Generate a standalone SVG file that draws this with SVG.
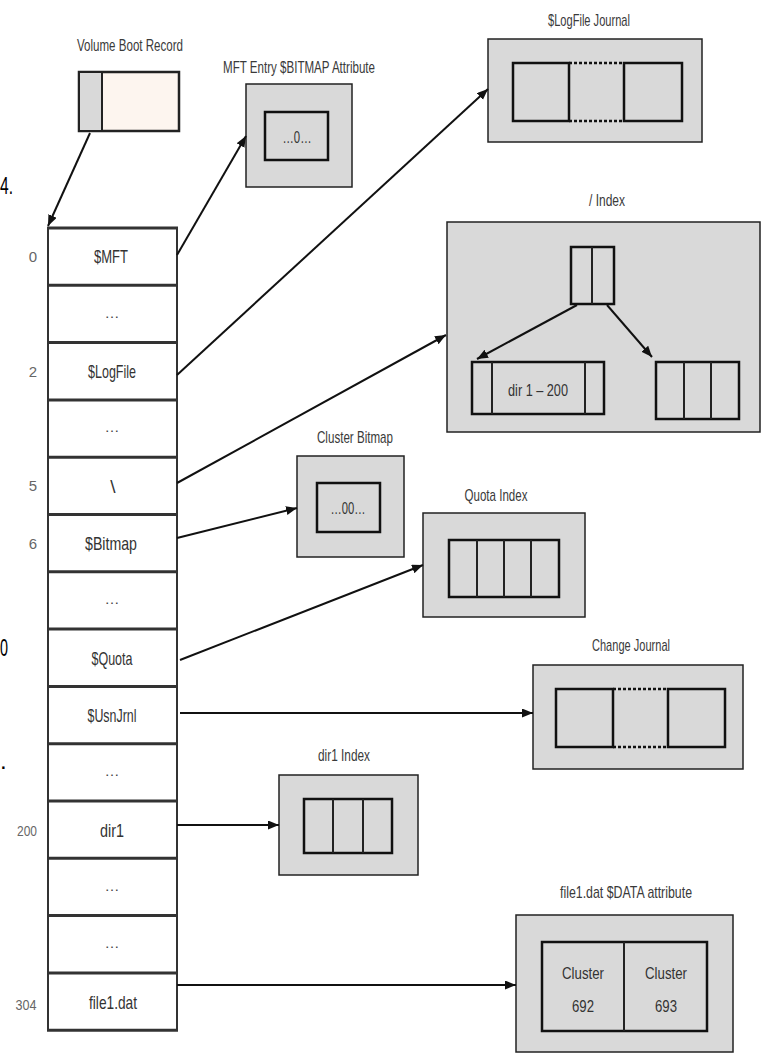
<svg xmlns="http://www.w3.org/2000/svg" width="762" height="1058" viewBox="0 0 762 1058">
<style>
  text { font-family: "Liberation Sans", Arial, sans-serif; }
  .lbl { font-size: 17px; fill: #3a3a3a; text-anchor: middle; }
  .row { font-size: 19px; fill: #333; text-anchor: middle; }
  .dots { font-size: 15px; fill: #444; text-anchor: middle; }
  .num { font-size: 15px; fill: #666; text-anchor: middle; }
  .in { font-size: 17px; fill: #333; text-anchor: middle; }
  .stray { font-size: 24px; fill: #000; }
  .outer { fill: #d9d9d9; stroke: #222; stroke-width: 1.5; }
  .inner { fill: none; stroke: #111; stroke-width: 2.5; }
  .div { stroke: #222; stroke-width: 2; }
  .dot { stroke: #111; stroke-width: 2.5; stroke-dasharray: 3 2; }
  .hl { stroke: #333; stroke-width: 3; }
  .vl { stroke: #333; stroke-width: 2; }
  .conn { stroke: #111; stroke-width: 2; fill: none; marker-end: url(#ah); }
</style>
<defs>
  <marker id="ah" markerUnits="userSpaceOnUse" markerWidth="12" markerHeight="10" refX="11" refY="4.5" orient="auto">
    <path d="M0,0 L11,4.5 L0,9 z" fill="#111"/>
  </marker>
</defs>
<rect width="762" height="1058" fill="#fff"/>

<!-- marks at left edge -->
<text class="stray" x="0" y="194" textLength="13" lengthAdjust="spacingAndGlyphs">4.</text>
<text class="stray" x="0" y="656" textLength="8" lengthAdjust="spacingAndGlyphs">0</text>
<text class="stray" x="0" y="769">.</text>

<!-- MFT table -->
<g id="mft-table">
  <rect x="48" y="228" width="129" height="802" fill="#fff"/>
  <line class="vl" x1="48" y1="227" x2="48" y2="1031"/>
  <line class="vl" x1="177" y1="227" x2="177" y2="1031"/>
  <line class="hl" x1="47" y1="228" x2="178" y2="228"/>
  <line class="hl" x1="47" y1="285.3" x2="178" y2="285.3"/>
  <line class="hl" x1="47" y1="342.6" x2="178" y2="342.6"/>
  <line class="hl" x1="47" y1="399.9" x2="178" y2="399.9"/>
  <line class="hl" x1="47" y1="457.2" x2="178" y2="457.2"/>
  <line class="hl" x1="47" y1="514.5" x2="178" y2="514.5"/>
  <line class="hl" x1="47" y1="571.8" x2="178" y2="571.8"/>
  <line class="hl" x1="47" y1="629.1" x2="178" y2="629.1"/>
  <line class="hl" x1="47" y1="686.4" x2="178" y2="686.4"/>
  <line class="hl" x1="47" y1="743.7" x2="178" y2="743.7"/>
  <line class="hl" x1="47" y1="801" x2="178" y2="801"/>
  <line class="hl" x1="47" y1="858.3" x2="178" y2="858.3"/>
  <line class="hl" x1="47" y1="915.6" x2="178" y2="915.6"/>
  <line class="hl" x1="47" y1="972.9" x2="178" y2="972.9"/>
  <line class="hl" x1="47" y1="1030.2" x2="178" y2="1030.2"/>
  <text class="row" x="111" y="263" textLength="34" lengthAdjust="spacingAndGlyphs">$MFT</text>
  <text class="dots" x="112" y="318">…</text>
  <text class="row" x="112" y="378" textLength="48" lengthAdjust="spacingAndGlyphs">$LogFile</text>
  <text class="dots" x="112" y="432">…</text>
  <text class="row" x="113" y="493">\</text>
  <text class="row" x="111" y="550" textLength="52" lengthAdjust="spacingAndGlyphs">$Bitmap</text>
  <text class="dots" x="112" y="604">…</text>
  <text class="row" x="112" y="665" textLength="41" lengthAdjust="spacingAndGlyphs">$Quota</text>
  <text class="row" x="112" y="722" textLength="49" lengthAdjust="spacingAndGlyphs">$UsnJrnl</text>
  <text class="dots" x="112" y="776">…</text>
  <text class="row" x="112" y="837" textLength="24" lengthAdjust="spacingAndGlyphs">dir1</text>
  <text class="dots" x="112" y="891">…</text>
  <text class="dots" x="112" y="948">…</text>
  <text class="row" x="113" y="1009" textLength="48" lengthAdjust="spacingAndGlyphs">file1.dat</text>
  <text class="num" x="33" y="262">0</text>
  <text class="num" x="33" y="377">2</text>
  <text class="num" x="33" y="491">5</text>
  <text class="num" x="33" y="549">6</text>
  <text class="num" x="27" y="836" textLength="20" lengthAdjust="spacingAndGlyphs">200</text>
  <text class="num" x="26" y="1010" textLength="21" lengthAdjust="spacingAndGlyphs">304</text>
</g>

<!-- Volume Boot Record -->
<g id="vbr">
  <text class="lbl" x="130" y="51" textLength="106" lengthAdjust="spacingAndGlyphs">Volume Boot Record</text>
  <rect x="79" y="72" width="100" height="59" fill="#fdf5ef" stroke="#222" stroke-width="2.5"/>
  <rect x="79" y="72" width="23" height="59" fill="#d9d9d9" stroke="#222" stroke-width="2"/>
</g>

<!-- MFT Entry $BITMAP Attribute -->
<g id="mft-bitmap">
  <text class="lbl" x="299" y="73" textLength="152" lengthAdjust="spacingAndGlyphs">MFT Entry $BITMAP Attribute</text>
  <rect class="outer" x="246" y="84" width="106" height="103"/>
  <rect class="inner" x="265" y="112" width="63" height="48"/>
  <text class="in" x="297" y="143" font-size="16" textLength="29" lengthAdjust="spacingAndGlyphs">…0…</text>
</g>

<!-- $LogFile Journal -->
<g id="logfile-journal">
  <text class="lbl" x="589" y="26" textLength="82" lengthAdjust="spacingAndGlyphs">$LogFile Journal</text>
  <rect class="outer" x="488" y="39" width="214" height="103"/>
  <rect x="513" y="63" width="56" height="58" fill="none" stroke="#111" stroke-width="2.5"/>
  <rect x="624" y="63" width="58" height="58" fill="none" stroke="#111" stroke-width="2.5"/>
  <line class="dot" x1="569" y1="63" x2="624" y2="63"/>
  <line class="dot" x1="569" y1="121" x2="624" y2="121"/>
</g>

<!-- / Index -->
<g id="root-index">
  <text class="lbl" x="607" y="206" textLength="36" lengthAdjust="spacingAndGlyphs">/ Index</text>
  <rect class="outer" x="447" y="222" width="313" height="210"/>
  <rect class="inner" x="571" y="247" width="43" height="57"/>
  <line class="div" x1="592" y1="247" x2="592" y2="304"/>
  <rect class="inner" x="472" y="362" width="132" height="52"/>
  <line class="div" x1="492" y1="362" x2="492" y2="414"/>
  <line class="div" x1="585" y1="362" x2="585" y2="414"/>
  <text class="in" x="538" y="396" font-size="20" textLength="60" lengthAdjust="spacingAndGlyphs">dir 1 – 200</text>
  <rect class="inner" x="656" y="362" width="83" height="57"/>
  <line class="div" x1="684" y1="362" x2="684" y2="419"/>
  <line class="div" x1="711" y1="362" x2="711" y2="419"/>
  <line class="conn" x1="577" y1="305" x2="477" y2="359"/>
  <line class="conn" x1="607" y1="305" x2="652" y2="357"/>
</g>

<!-- Cluster Bitmap -->
<g id="cluster-bitmap">
  <text class="lbl" x="355" y="443" textLength="76" lengthAdjust="spacingAndGlyphs">Cluster Bitmap</text>
  <rect class="outer" x="297" y="456" width="107" height="101"/>
  <rect class="inner" x="317" y="483" width="63" height="49"/>
  <text class="in" x="348" y="514" font-size="16" textLength="35" lengthAdjust="spacingAndGlyphs">…00…</text>
</g>

<!-- Quota Index -->
<g id="quota-index">
  <text class="lbl" x="496" y="501" textLength="63" lengthAdjust="spacingAndGlyphs">Quota Index</text>
  <rect class="outer" x="423" y="513" width="162" height="104"/>
  <rect class="inner" x="449" y="540" width="110" height="57"/>
  <line class="div" x1="477" y1="540" x2="477" y2="597"/>
  <line class="div" x1="504" y1="540" x2="504" y2="597"/>
  <line class="div" x1="531" y1="540" x2="531" y2="597"/>
</g>

<!-- Change Journal -->
<g id="change-journal">
  <text class="lbl" x="631" y="651" textLength="78" lengthAdjust="spacingAndGlyphs">Change Journal</text>
  <rect class="outer" x="533" y="665" width="210" height="104"/>
  <rect x="556" y="689" width="57" height="58" fill="none" stroke="#111" stroke-width="2.5"/>
  <rect x="668" y="689" width="57" height="58" fill="none" stroke="#111" stroke-width="2.5"/>
  <line class="dot" x1="613" y1="689" x2="668" y2="689"/>
  <line class="dot" x1="613" y1="747" x2="668" y2="747"/>
</g>

<!-- dir1 Index -->
<g id="dir1-index">
  <text class="lbl" x="344" y="761" textLength="52" lengthAdjust="spacingAndGlyphs">dir1 Index</text>
  <rect class="outer" x="279" y="775" width="139" height="100"/>
  <rect class="inner" x="304" y="799" width="88" height="54"/>
  <line class="div" x1="333" y1="799" x2="333" y2="853"/>
  <line class="div" x1="363" y1="799" x2="363" y2="853"/>
</g>

<!-- file1.dat $DATA attribute -->
<g id="file1-data">
  <text class="lbl" x="626" y="898" textLength="132" lengthAdjust="spacingAndGlyphs">file1.dat $DATA attribute</text>
  <rect class="outer" x="516" y="915" width="217" height="137"/>
  <rect class="inner" x="542" y="942" width="165" height="89"/>
  <line class="div" x1="624" y1="942" x2="624" y2="1031"/>
  <text class="in" x="583" y="979" font-size="21" textLength="42" lengthAdjust="spacingAndGlyphs">Cluster</text>
  <text class="in" x="583" y="1012" font-size="21" textLength="22" lengthAdjust="spacingAndGlyphs">692</text>
  <text class="in" x="666" y="979" font-size="21" textLength="42" lengthAdjust="spacingAndGlyphs">Cluster</text>
  <text class="in" x="666" y="1012" font-size="21" textLength="22" lengthAdjust="spacingAndGlyphs">693</text>
</g>

<!-- connectors -->
<g id="connectors">
  <line class="conn" x1="90" y1="133" x2="48" y2="226"/>
  <line class="conn" x1="177" y1="255" x2="246" y2="136"/>
  <line class="conn" x1="177" y1="375" x2="488" y2="89"/>
  <line class="conn" x1="177" y1="483" x2="446" y2="335"/>
  <line class="conn" x1="177" y1="538" x2="297" y2="508"/>
  <line class="conn" x1="180" y1="660" x2="423" y2="565"/>
  <line class="conn" x1="180" y1="713" x2="533" y2="713"/>
  <line class="conn" x1="177" y1="825" x2="279" y2="825"/>
  <line class="conn" x1="177" y1="985" x2="516" y2="985"/>
</g>
</svg>
